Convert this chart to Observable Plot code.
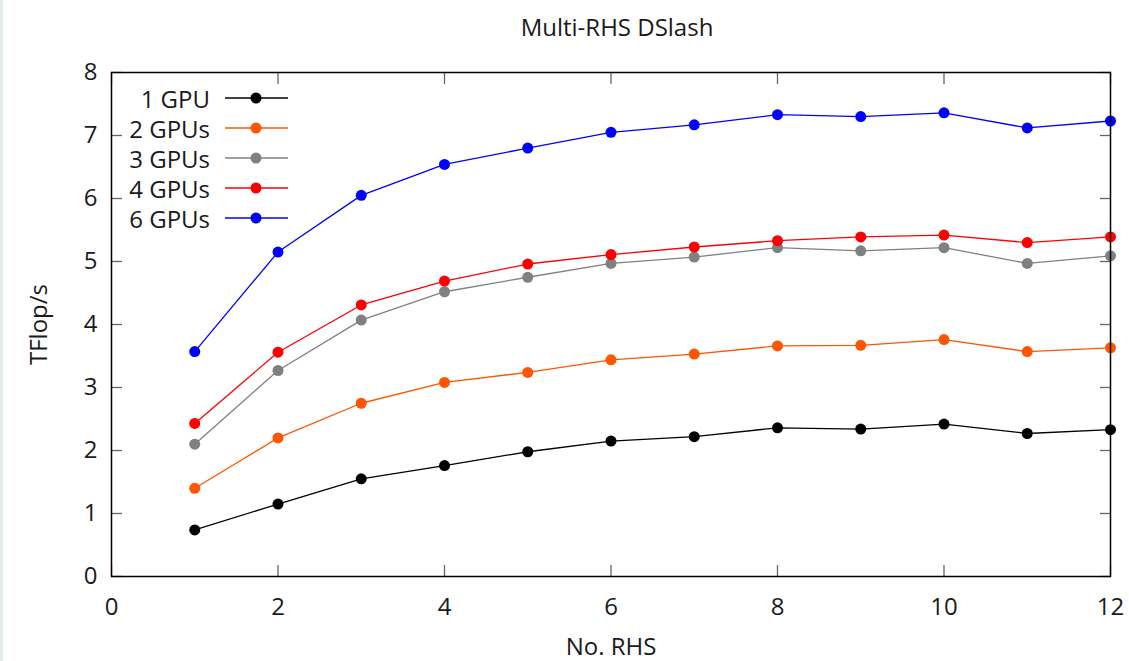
<!DOCTYPE html>
<html>
<head>
<meta charset="utf-8">
<script src="https://cdn.jsdelivr.net/npm/d3@7"></script>
<script src="https://cdn.jsdelivr.net/npm/@observablehq/plot@0.6"></script>
<style>
  body { margin: 0; background: #fff; }
  #wrap { position: relative; width: 1129px; height: 661px; font-family: "Open Sans", sans-serif; color: #1a1a1a; }
  #strip { position: absolute; left: 0; top: 0; width: 3px; height: 661px; background: #e4ecec; }
  #title { height: 54px; line-height: 54px; text-align: center; padding-left: 105px; font-size: 24px; }
  #legend { position: absolute; left: 111px; top: 83px; font-size: 24px; }
  .row { display: flex; align-items: center; height: 30px; }
  .lab { width: 99px; text-align: right; white-space: nowrap; }
  .row svg { margin-left: 15px; }
</style>
</head>
<body>
<div id="wrap">
  <div id="strip"></div>
  <div id="title">Multi-RHS DSlash</div>
  <div id="chart"></div>
  <div id="legend"></div>
</div>
<script>
const rhs = [1, 2, 3, 4, 5, 6, 7, 8, 9, 10, 11, 12];
const seriesNames = ["1 GPU", "2 GPUs", "3 GPUs", "4 GPUs", "6 GPUs"];
const seriesColors = ["#000000", "#ff5500", "#808080", "#ff0000", "#0000ff"];
const gpu1 = [0.74, 1.15, 1.55, 1.76, 1.98, 2.15, 2.22, 2.36, 2.34, 2.42, 2.27, 2.33];
const gpu2 = [1.40, 2.20, 2.75, 3.08, 3.24, 3.44, 3.53, 3.66, 3.67, 3.76, 3.57, 3.63];
const gpu3 = [2.10, 3.27, 4.07, 4.52, 4.75, 4.97, 5.07, 5.22, 5.17, 5.22, 4.97, 5.09];
const gpu4 = [2.43, 3.56, 4.31, 4.69, 4.96, 5.11, 5.23, 5.33, 5.39, 5.42, 5.30, 5.39];
const gpu6 = [3.57, 5.15, 6.05, 6.54, 6.80, 7.05, 7.17, 7.33, 7.30, 7.36, 7.12, 7.23];
const xTicks = [0, 2, 4, 6, 8, 10, 12];
const yTicks = [0, 1, 2, 3, 4, 5, 6, 7, 8];

const seriesValues = [gpu1, gpu2, gpu3, gpu4, gpu6];
const series = seriesNames.map((name, i) => ({
  name, color: seriesColors[i],
  rows: rhs.map((x, j) => ({x, y: seriesValues[i][j], name}))
}));

const marks = [];
series.forEach(s => {
  marks.push(Plot.line(s.rows, {x: "x", y: "y", stroke: s.color, strokeWidth: 1.3}));
  marks.push(Plot.dot(s.rows, {x: "x", y: "y", fill: s.color, r: 5.5}));
});

const tickColor = "#666";
const fmt = d => String(d);
const chart = Plot.plot({
  width: 1129,
  height: 607,
  marginLeft: 111,
  marginRight: 19,
  marginTop: 18,
  marginBottom: 85,
  style: {fontFamily: "Open Sans, sans-serif", fontSize: "24px", color: "#1a1a1a", background: "transparent", overflow: "visible"},
  x: {domain: [0, 12]},
  y: {domain: [0, 8]},
  marks: [
    Plot.axisX(xTicks, {anchor: "bottom", tickSize: 0, tickPadding: 21, tickFormat: fmt, label: null}),
    Plot.axisX([], {anchor: "bottom", tickSize: 0, label: "No. RHS", labelArrow: "none", labelAnchor: "center", labelOffset: 78, dx: 6}),
    Plot.axisX(xTicks, {anchor: "bottom", tickSize: 11, text: null, dy: -11, label: null, stroke: tickColor, strokeWidth: 1.3}),
    Plot.axisX(xTicks, {anchor: "top", tickSize: 11, text: null, dy: 11, label: null, stroke: tickColor, strokeWidth: 1.3}),
    Plot.axisY(yTicks, {anchor: "left", tickSize: 0, tickPadding: 14, tickFormat: fmt, label: "TFlop/s", labelArrow: "none", labelAnchor: "center", labelOffset: 82}),
    Plot.axisY(yTicks, {anchor: "left", tickSize: 11, text: null, dx: 11, label: null, stroke: tickColor, strokeWidth: 1.3}),
    Plot.axisY(yTicks, {anchor: "right", tickSize: 11, text: null, dx: -11, label: null, stroke: tickColor, strokeWidth: 1.3}),
    ...marks,
    Plot.frame({stroke: "#000", strokeWidth: 1.5})
  ]
});
document.getElementById("chart").appendChild(chart);

const legend = document.getElementById("legend");
series.forEach(s => {
  const row = document.createElement("div");
  row.className = "row";
  const lab = document.createElement("div");
  lab.className = "lab";
  lab.textContent = s.name;
  row.appendChild(lab);
  const svg = d3.create("svg").attr("width", 63).attr("height", 30);
  svg.append("line").attr("x1", 0).attr("x2", 63).attr("y1", 15).attr("y2", 15)
    .attr("stroke", s.color).attr("stroke-width", 1.3);
  svg.append("circle").attr("cx", 31).attr("cy", 15).attr("r", 5.5).attr("fill", s.color);
  row.appendChild(svg.node());
  legend.appendChild(row);
});
</script>
</body>
</html>
